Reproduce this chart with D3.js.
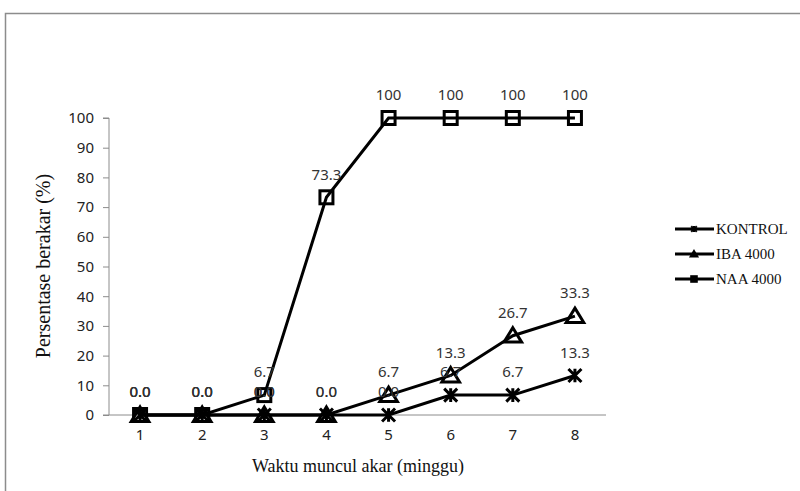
<!DOCTYPE html>
<html lang="id">
<head>
<meta charset="utf-8">
<title>Persentase berakar</title>
<script src="https://d3js.org/d3.v7.min.js"></script>
<style>
  body { margin: 0; background: #fff; }
</style>
</head>
<body>
<svg id="chart" width="800" height="491"></svg>
<script>
// data
var weeks = [1, 2, 3, 4, 5, 6, 7, 8];
var seriesNames = ["KONTROL", "IBA 4000", "NAA 4000"];
var kontrol = [0, 0, 0, 0, 0, 6.7, 6.7, 13.3];
var iba = [0, 0, 0, 0, 6.7, 13.3, 26.7, 33.3];
var naa = [0, 0, 6.7, 73.3, 100, 100, 100, 100];
var yTicks = [0, 10, 20, 30, 40, 50, 60, 70, 80, 90, 100];

var series = [
  { name: seriesNames[0], values: kontrol, marker: "star" },
  { name: seriesNames[1], values: iba, marker: "triangle" },
  { name: seriesNames[2], values: naa, marker: "square" }
];

var svg = d3.select("#chart");

// outer frame (only top and left edges show)
svg.append("path")
  .attr("d", "M5.5,491 V13.5 H800")
  .attr("fill", "none")
  .attr("stroke", "#8c8c8c")
  .attr("stroke-width", 1.5);

var margin = { top: 118, left: 109, right: 606, bottom: 415 };

var x = d3.scaleBand()
  .domain(weeks)
  .range([margin.left, margin.right]);

var y = d3.scaleLinear()
  .domain([0, 100])
  .range([margin.bottom, margin.top]);

function cx(d) { return x(d) + x.bandwidth() / 2; }

// y axis
var yAxis = svg.append("g")
  .attr("transform", "translate(" + margin.left + ",0)")
  .call(d3.axisLeft(y).tickValues(yTicks).tickSize(6).tickPadding(9));
yAxis.select(".domain").attr("stroke", "#8c8c8c").attr("d", "M-6," + y(100) + "H0V" + y(0) + "H-6");
yAxis.selectAll(".tick line").attr("stroke", "#8c8c8c");
yAxis.selectAll("text")
  .attr("font-family", "'Noto Sans', sans-serif")
  .attr("font-size", 15)
  .attr("fill", "#222");

// x axis
var xAxis = svg.append("g")
  .attr("transform", "translate(0," + margin.bottom + ")")
  .call(d3.axisBottom(x).tickSize(0).tickPadding(14));
xAxis.select(".domain").attr("stroke", "#8c8c8c").attr("d", "M" + margin.left + ",0H" + margin.right);
xAxis.selectAll("text")
  .attr("font-family", "'Noto Sans', sans-serif")
  .attr("font-size", 15)
  .attr("fill", "#222");

// axis titles
svg.append("text")
  .attr("x", 358)
  .attr("y", 472)
  .attr("text-anchor", "middle")
  .attr("font-family", "'Liberation Serif', serif")
  .attr("font-size", 18)
  .attr("fill", "#111")
  .text("Waktu muncul akar (minggu)");

svg.append("text")
  .attr("transform", "translate(50,266) rotate(-90)")
  .attr("text-anchor", "middle")
  .attr("font-family", "'Liberation Serif', serif")
  .attr("font-size", 20)
  .attr("fill", "#111")
  .text("Persentase berakar (%)");

// marker drawing
function drawMarker(g, type, px, py, s, filled, sw) {
  if (type === "star") {
    g.append("path")
      .attr("d", "M" + (px - s) + "," + (py - s) + "L" + (px + s) + "," + (py + s) +
                 "M" + (px + s) + "," + (py - s) + "L" + (px - s) + "," + (py + s) +
                 "M" + px + "," + (py - s * 1.05) + "L" + px + "," + (py + s * 1.05))
      .attr("stroke", "#000")
      .attr("stroke-width", sw)
      .attr("fill", "none");
  } else if (type === "triangle") {
    g.append("path")
      .attr("d", "M" + px + "," + (py - s) + "L" + (px + s * 1.1) + "," + (py + s * 0.8) +
                 "L" + (px - s * 1.1) + "," + (py + s * 0.8) + "Z")
      .attr("stroke", "#000")
      .attr("stroke-width", sw)
      .attr("stroke-linejoin", "miter")
      .attr("fill", filled ? "#000" : "none");
  } else {
    g.append("rect")
      .attr("x", px - s)
      .attr("y", py - s)
      .attr("width", s * 2)
      .attr("height", s * 2)
      .attr("stroke", "#000")
      .attr("stroke-width", sw)
      .attr("fill", filled ? "#000" : "none");
  }
}

var line = d3.line()
  .x(function(d, i) { return cx(weeks[i]); })
  .y(function(d) { return y(d); });

series.forEach(function(s) {
  var g = svg.append("g");
  g.append("path")
    .datum(s.values)
    .attr("d", line)
    .attr("fill", "none")
    .attr("stroke", "#000")
    .attr("stroke-width", 3);
  s.values.forEach(function(v, i) {
    drawMarker(g, s.marker, cx(weeks[i]), y(v), s.marker === "triangle" ? 8 : 6.5, false, 3);
  });
});

// data labels
function fmt(v) { return v === 100 ? "100" : v.toFixed(1); }
series.forEach(function(s) {
  svg.append("g").selectAll("text")
    .data(s.values)
    .enter()
    .append("text")
    .attr("x", function(d, i) { return cx(weeks[i]); })
    .attr("y", function(d) { return y(d) - 23; })
    .attr("dy", "0.35em")
    .attr("text-anchor", "middle")
    .attr("font-family", "'Noto Sans', sans-serif")
    .attr("font-size", 15)
    .attr("fill", "#333")
    .text(fmt);
});

// legend
var legend = svg.append("g");
series.forEach(function(s, i) {
  var ly = 229 + i * 25;
  legend.append("line")
    .attr("x1", 675).attr("x2", 714)
    .attr("y1", ly).attr("y2", ly)
    .attr("stroke", "#000")
    .attr("stroke-width", 3);
  drawMarker(legend, s.marker, 694, ly, s.marker === "triangle" ? 3 : 2.8, true, 2);
  legend.append("text")
    .attr("x", 716)
    .attr("y", ly)
    .attr("dy", "0.35em")
    .attr("font-family", "'Liberation Serif', serif")
    .attr("font-size", 15)
    .attr("fill", "#111")
    .text(s.name);
});
</script>
</body>
</html>
